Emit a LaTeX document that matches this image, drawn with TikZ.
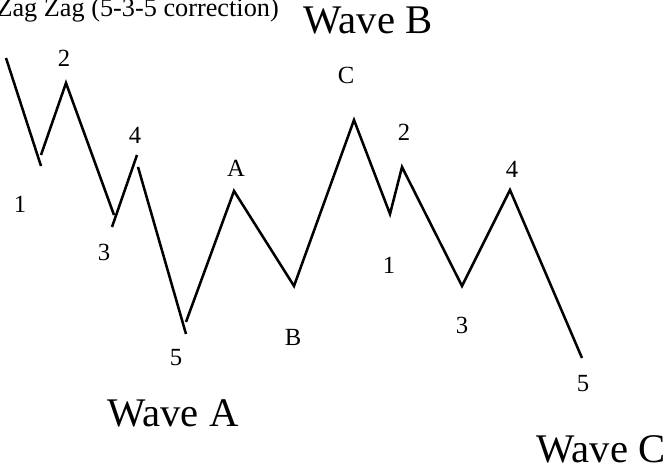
\documentclass[tikz,border=0pt]{standalone}
\usepackage{fontspec}
\setmainfont{Liberation Serif}
\usetikzlibrary{positioning}
\tikzset{
  wave/.style={line width=1.9pt, draw=black},
  lab/.style={font=\fontsize{18.5}{20}\selectfont, inner sep=0pt},
  bigwave/.style={font=\fontsize{30.5}{32}\selectfont, inner sep=0pt},
  title/.style={font=\fontsize{19.7}{21}\selectfont, inner sep=0pt}
}
\begin{document}
\begin{tikzpicture}[x=0.75pt, y=-0.75pt]
  \useasboundingbox (0,0) rectangle (665,470);
  % pixel grid, y runs down
  \node[title, anchor=base east] (title) at (279,17) {Zag Zag (5-3-5 correction)};
  \node[bigwave] (waveB) at (368,20) {Wave B};
  \node[bigwave] (waveA) at (173,413) {Wave A};
  \node[bigwave] (waveC) at (601,449) {Wave C};
  % wave A: five legs, drawn as loose strokes
  \draw[wave] (6,58) -- (41,166);
  \draw[wave] (41,155) -- (66,83) -- (114,215);
  \draw[wave] (112,227) -- (137,155);
  \draw[wave] (138,167) -- (186,334);
  % wave B up to C, then wave C down
  \draw[wave] (186,322) -- (234,191) -- (294,286) -- (354,120) -- (390,214)
    -- (402,167) -- (462,286) -- (510,190) -- (582,358);
  % wave A counts
  \node[lab] (a1) at (20,204) {1};
  \node[lab] (a2) at (64,58) {2};
  \node[lab] (a3) at (104,252) {3};
  \node[lab] (a4) at (135,135) {4};
  \node[lab] (a5) at (176,358) {5};
  % wave B letters
  \node[lab] (pa) at (236,168) {A};
  \node[lab] (pb) at (293,337) {B};
  \node[lab] (pc) at (346,75) {C};
  % wave C counts
  \node[lab] (c1) at (389,265) {1};
  \node[lab] (c2) at (404,132) {2};
  \node[lab] (c3) at (462,325) {3};
  \node[lab] (c4) at (512,169) {4};
  \node[lab] (c5) at (583,384) {5};
\end{tikzpicture}
\end{document}
